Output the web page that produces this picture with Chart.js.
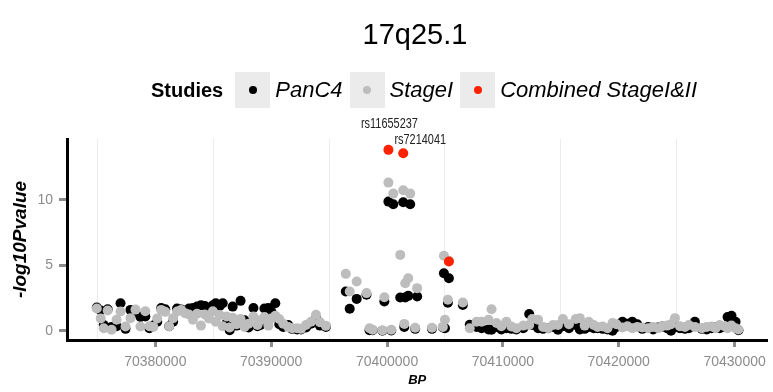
<!DOCTYPE html>
<html>
<head>
<meta charset="utf-8">
<script src="https://cdn.jsdelivr.net/npm/chart.js@4.4.0/dist/chart.umd.min.js"></script>
<style>
  body { margin: 0; background: #fff; font-family: "Liberation Sans", Arial, sans-serif; }
  #wrap { position: relative; width: 773px; height: 392px; }
  #title { position: absolute; left: 0; width: 830px; top: 18px; text-align: center; font-size: 29px; color: #000; }
  #legend { position: absolute; left: 151px; top: 72px; height: 36px; display: flex; align-items: center; font-size: 20px; color: #000; }
  #legend .head { font-weight: bold; margin-right: 12px; }
  #legend .key { width: 35px; height: 36px; background: #ebebeb; display: flex; align-items: center; justify-content: center; margin-right: 5px; }
  #legend .key span { width: 8px; height: 8px; border-radius: 50%; display: block; }
  #legend .lab { font-style: italic; font-size: 22px; margin-right: 7px; }
</style>
</head>
<body>
<div id="wrap">
  <canvas id="scatter-chart" width="773" height="392"></canvas>
  <div id="title">17q25.1</div>
  <div id="legend">
    <div class="head">Studies</div>
    <div class="key"><span style="background:#000000"></span></div><div class="lab">PanC4</div>
    <div class="key"><span style="background:#bdbdbd"></span></div><div class="lab">StageI</div>
    <div class="key"><span style="background:#ff2200"></span></div><div class="lab">Combined StageI&amp;II</div>
  </div>
</div>
<script>
// SNP positions (BP) shared by both studies
const snpBP = [
  70374950, 70375290, 70375550, 70375890, 70376230, 70376660, 70377000, 70377430, 70377860, 70378290,
  70378720, 70379140, 70379490, 70379830, 70380170, 70380510, 70380860, 70381200, 70381540, 70381880,
  70382230, 70382570, 70382910, 70383250, 70383600, 70383940, 70384280, 70384620, 70384970, 70385220,
  70385560, 70385820, 70386160, 70386420, 70386680, 70387020, 70387360, 70387700, 70388050, 70388470,
  70388820, 70389070, 70389420, 70389760, 70390020, 70390360, 70390700, 70391040, 70391470, 70391810,
  70392240, 70392580, 70393010, 70393440, 70393870, 70394210, 70394720,
  70396440, 70396780, 70397380, 70398230, 70398490, 70398750, 70399600, 70399770, 70400120, 70400370,
  70400540, 70401140, 70401400, 70401490, 70401570, 70401830, 70402000, 70402430, 70402600, 70403880,
  70404820, 70404910, 70405000, 70405250, 70405340, 70406540,
  70407140, 70407730, 70408160, 70408760, 70409020, 70409450, 70409870, 70410300, 70410730, 70411160,
  70411760, 70412270, 70412530, 70413040, 70413470, 70413900, 70414330, 70414750, 70415180, 70415700,
  70416290, 70416640, 70417060, 70417410, 70417840, 70418180, 70418610, 70419030, 70419460, 70419800,
  70420320, 70420750, 70421170, 70421600, 70422030, 70422540, 70422970, 70423400, 70423740, 70424170,
  70424510, 70424850, 70425280, 70425710, 70426050, 70426570, 70427170, 70427590, 70428020, 70428360,
  70428710, 70429130, 70429390, 70429730, 70430080, 70430330
];

// -log10 P, PanC4
const panc4 = [
  1.78, 1.55, 0.45, 1.65, 0.30, 0.35, 2.11, 0.15, 1.60, 1.40,
  1.05, 1.10, 0.20, 0.40, 0.70, 1.75, 1.65, 0.35, 0.70, 1.70,
  1.62, 1.55, 1.70, 1.75, 1.85, 1.95, 1.90, 1.70, 1.95, 2.10,
  1.90, 2.11, 0.60, 0.05, 1.85, 0.40, 2.29, 0.80, 0.25, 1.75,
  0.35, 0.45, 1.70, 1.75, 1.45, 2.11, 0.50, 0.30, 0.45, 0.15,
  0.10, 0.10, 0.25, 0.55, 0.95, 0.40, 0.30,
  3.00, 1.68, 2.44, 2.75, 0.05, 0.05, 0.00, 2.24, 9.87, 0.02,
  9.67, 2.54, 9.82, 0.30, 2.54, 2.67, 9.67, 0.15, 2.62, 0.15,
  0.25, 4.40, 0.20, 2.14, 4.02, 1.98,
  0.46, 0.30, 0.20, 0.10, 0.08, 0.30, 0.10, 0.20, 0.15, 0.10,
  0.20, 1.28, 0.45, 0.20, 0.15, 0.20, 0.30, 0.08, 0.35, 0.20,
  0.45, 0.10, 0.15, 0.30, 0.20, 0.20, 0.15, 0.10, 0.00, 0.30,
  0.70, 0.55, 0.70, 0.50, 0.15, 0.30, 0.10, 0.25, 0.33, 0.20,
  0.00, 0.30, 0.20, 0.15, 0.20, 0.70, 0.15, 0.10, 0.20, 0.25,
  0.20, 0.30, 1.05, 1.15, 0.70, 0.05
];

// -log10 P, StageI
const stageI = [
  1.70, 0.95, 0.20, 1.55, 0.08, 0.85, 1.47, 0.33, 0.97, 1.62,
  0.33, 1.50, 0.35, 0.30, 0.95, 1.60, 1.45, 0.35, 0.97, 1.47,
  1.60, 1.35, 1.25, 0.85, 1.30, 0.40, 1.25, 0.95, 1.50, 0.70,
  1.20, 0.35, 1.10, 0.25, 1.00, 0.50, 0.90, 0.30, 0.55, 1.10,
  0.45, 0.80, 1.05, 0.40, 0.95, 1.15, 0.90, 0.55, 0.30, 0.20,
  0.20, 0.15, 0.45, 0.70, 1.22, 0.65, 0.38,
  4.35, 3.00, 3.77, 2.88, 0.20, 0.08, 0.03, 2.57, 11.32, 0.08,
  10.48, 5.80, 10.74, 0.53, 3.64, 4.02, 10.48, 0.23, 3.26, 0.23,
  0.30, 5.73, 0.84, 2.37, 5.35, 2.16,
  0.20, 0.70, 0.70, 0.84, 1.65, 0.60, 0.35, 0.70, 0.33, 0.20,
  0.40, 0.45, 0.90, 0.84, 0.30, 0.20, 0.45, 0.45, 0.90, 0.50,
  0.90, 0.97, 0.40, 0.70, 0.45, 0.30, 0.33, 0.20, 0.60, 0.50,
  0.25, 0.35, 0.20, 0.30, 0.25, 0.20, 0.30, 0.20, 0.35, 0.40,
  0.50, 0.97, 0.35, 0.30, 0.45, 0.30, 0.20, 0.30, 0.33, 0.20,
  0.45, 0.35, 0.20, 0.40, 0.20, 0.10
];

// Combined StageI&II
const combinedBP = [70400120, 70401400, 70405340];
const combined = [13.82, 13.56, 5.29];
const snpNames = ["rs11655237", "rs7214041", ""];

const xTicks = [70380000, 70390000, 70400000, 70410000, 70420000, 70430000];
const xMinorGrid = [70375000, 70385000, 70395000, 70405000, 70415000, 70425000];
const yTicks = [0, 5, 10];

const toPoints = (xs, ys) => xs.map((x, i) => ({ x: x, y: ys[i] }));
const isMinor = (v) => xMinorGrid.includes(v);

// draws the rs labels next to the combined points (condensed look)
const snpLabelPlugin = {
  id: "snpLabels",
  afterDatasetsDraw(chart) {
    const { ctx, scales } = chart;
    const offsets = [[1, -26], [17, -13]];
    ctx.save();
    ctx.font = '14px "Liberation Sans", Arial, sans-serif';
    ctx.fillStyle = "#222";
    ctx.textAlign = "center";
    ctx.textBaseline = "middle";
    snpNames.forEach((name, i) => {
      if (!name) return;
      const px = scales.x.getPixelForValue(combinedBP[i]);
      const py = scales.y.getPixelForValue(combined[i]);
      ctx.save();
      ctx.translate(px + offsets[i][0], py + offsets[i][1]);
      ctx.scale(0.78, 1);
      ctx.fillText(name, 0, 0);
      ctx.restore();
    });
    ctx.restore();
  }
};

const ctx = document.getElementById("scatter-chart").getContext("2d");
new Chart(ctx, {
  type: "scatter",
  data: {
    datasets: [
      { label: "PanC4", data: toPoints(snpBP, panc4), backgroundColor: "#000000", order: 3 },
      { label: "StageI", data: toPoints(snpBP, stageI), backgroundColor: "#bdbdbd", order: 2 },
      { label: "Combined StageI&II", data: toPoints(combinedBP, combined), backgroundColor: "#ff2200", order: 1 }
    ]
  },
  options: {
    responsive: false,
    animation: false,
    events: [],
    layout: { padding: { top: 139, right: 0, left: 0, bottom: 0 } },
    elements: { point: { radius: 5, borderWidth: 0, hoverRadius: 5 } },
    plugins: { legend: { display: false }, tooltip: { enabled: false } },
    scales: {
      x: {
        type: "linear",
        min: 70372380,
        max: 70432830,
        afterBuildTicks: (scale) => {
          scale.ticks = xTicks.concat(xMinorGrid).sort((a, b) => a - b).map(v => ({ value: v }));
        },
        afterFit: (scale) => { scale.height = 52; },
        ticks: {
          autoSkip: false,
          maxRotation: 0,
          padding: 7,
          color: "#8c8c8c",
          font: { family: '"Liberation Sans", Arial, sans-serif', size: 14 },
          callback: (v) => (xTicks.includes(v) ? String(v) : "")
        },
        grid: {
          color: (c) => (c.tick && isMinor(c.tick.value) ? "#ececec" : "rgba(0,0,0,0)"),
          lineWidth: 1,
          tickColor: (c) => (c.tick && isMinor(c.tick.value) ? "rgba(0,0,0,0)" : "#8c8c8c"),
          tickWidth: 3,
          tickLength: 7
        },
        border: { color: "#000", width: 3 },
        title: {
          display: true,
          text: "BP",
          color: "#000",
          padding: { top: 0, bottom: 4 },
          font: { family: '"Liberation Sans", Arial, sans-serif', size: 13, weight: "bold", style: "italic" }
        }
      },
      y: {
        min: -0.7,
        max: 14.65,
        afterBuildTicks: (scale) => { scale.ticks = yTicks.map(v => ({ value: v })); },
        afterFit: (scale) => { scale.width = 67; },
        ticks: {
          padding: 6,
          color: "#8c8c8c",
          font: { family: '"Liberation Sans", Arial, sans-serif', size: 14 }
        },
        grid: {
          drawOnChartArea: false,
          tickColor: "#8c8c8c",
          tickWidth: 3,
          tickLength: 8
        },
        border: { color: "#000", width: 3 },
        title: {
          display: true,
          text: "-log10Pvalue",
          color: "#000",
          padding: { top: 9, bottom: 0 },
          font: { family: '"Liberation Sans", Arial, sans-serif', size: 19, weight: "bold", style: "italic" }
        }
      }
    }
  },
  plugins: [snpLabelPlugin]
});
</script>
</body>
</html>
